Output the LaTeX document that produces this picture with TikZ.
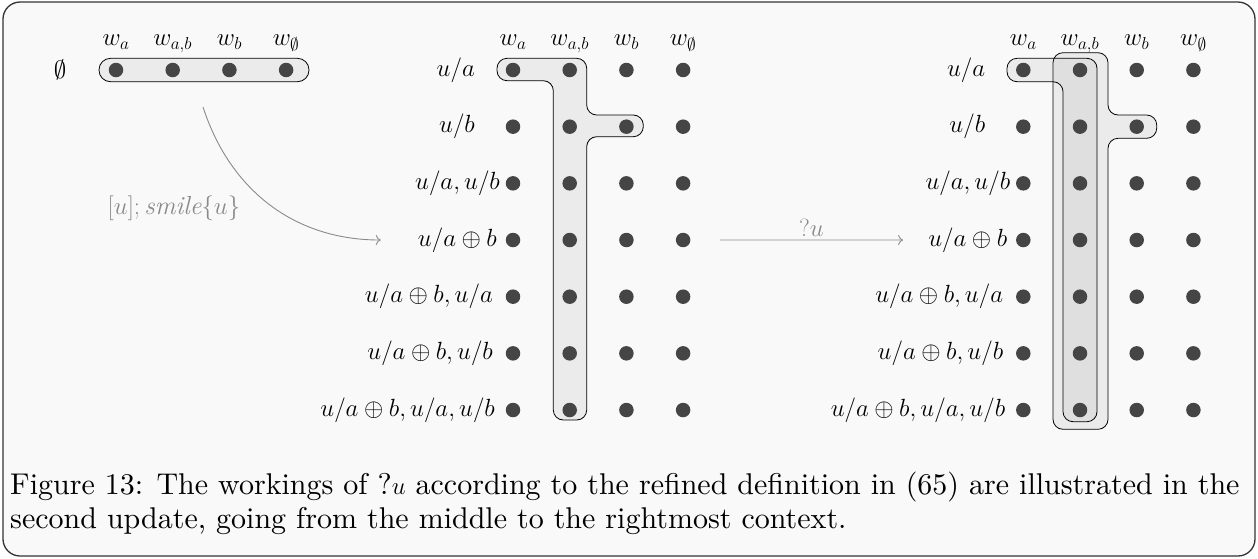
\documentclass[tikz,border=0pt]{standalone}
\usepackage{amssymb}
\usepackage{fontspec}
\newfontfamily\capfont{lmroman10-regular.otf}
\usetikzlibrary{arrows.meta,positioning,calc}
\definecolor{panelbg}{HTML}{F9F9F9}
\definecolor{dotgray}{HTML}{454545}
\definecolor{arrgray}{HTML}{8A8A8A}
\begin{document}
\begin{tikzpicture}[x=1pt,y=1pt, every node/.style={font=\fontsize{26}{32}\selectfont}, dot/.style={circle,fill=dotgray,minimum size=14.5pt,inner sep=0pt}, head/.style={anchor=base,inner sep=0pt}, row/.style={anchor=east,inner sep=0pt}, blob/.style={draw=black,line width=0.8pt,fill=gray,fill opacity=0.11,rounded corners=10pt}, arr/.style={-{To[length=5pt,width=10pt]},draw=arrgray,line width=0.9pt}, lbl/.style={text=arrgray}, capline/.style={anchor=base west,inner sep=0pt,font=\capfont\fontsize{30}{34}\selectfont}]
\useasboundingbox (0,0) rectangle (1258,-558);
\draw[draw=black!80,line width=1.3pt,fill=panelbg,rounded corners=17pt] (3,-2) rectangle (1255,-556);
% groupings
\draw[blob,rounded corners=11.5pt] (99,-58.3) rectangle (309,-81.7);
\draw[blob] (540,-58.3) -- (586.7,-58.3) -- (586.7,-115) -- (643.3,-115) -- (643.3,-136.7) -- (586.7,-136.7) -- (586.7,-420) -- (553.3,-420) -- (553.3,-80.7) -- (497,-80.7) -- (497,-58.3) -- cycle;
\draw[blob] (1080,-52.7) -- (1108,-52.7) -- (1108,-115) -- (1156.7,-115) -- (1156.7,-138.3) -- (1108,-138.3) -- (1108,-429.3) -- (1053,-429.3) -- (1053,-52.7) -- cycle;
\draw[blob] (1050,-58.3) -- (1097,-58.3) -- (1097,-421.7) -- (1063,-421.7) -- (1063,-81.7) -- (1007,-81.7) -- (1007,-58.3) -- cycle;
% worlds
\foreach \c/\w in {1/a,2/{a,b},3/b,4/\emptyset} {
  \node[dot] (e-\c) at ({116+56.7*(\c-1)},-70) {};
  \node[head] (eh-\c) at ($(e-\c)+(0,24.3)$) {$w_{\w}$};
  \foreach \r in {1,...,7} {
    \node[dot] (m-\r-\c) at ({513+56.7*(\c-1)},{-70-56.67*(\r-1)}) {};
    \node[dot] (r-\r-\c) at ({1023.3+56.7*(\c-1)},{-70-56.67*(\r-1)}) {};
  }
  \node[head] (mh-\c) at ($(m-1-\c)+(0,24.3)$) {$w_{\w}$};
  \node[head] (rh-\c) at ($(r-1-\c)+(0,24.3)$) {$w_{\w}$};
}
\node[anchor=center,inner sep=0pt] (e-lab) at (60,-70) {$\emptyset$};
% information states
\foreach \r/\d/\s in {1/38/{u/a},2/38/{u/b},3/13/{u/a,u/b},4/16/{u/a\oplus b},5/20/{u/a\oplus b,u/a},6/20/{u/a\oplus b,u/b},7/18/{u/a\oplus b,u/a,u/b}} {
  \node[row] (ml-\r) at ($(m-\r-1)+(-\d,0)$) {$\s$};
  \node[row] (rl-\r) at ($(r-\r-1)+(-\d,0)$) {$\s$};
}
% updates
\coordinate (src) at (203,-107);
\coordinate (dst) at ($(ml-4.west)+(-37,0)$);
\draw[arr] (src) to[out=-72,in=180] (dst);
\node[lbl] (upd1) at (174,-208) {$[u];\mathit{smile}\{u\}$};
\coordinate (q1) at (720,-240);
\coordinate (q2) at ($(rl-4.west)+(-25,0)$);
\draw[arr] (q1) -- node[lbl,above,inner sep=3pt] (upd2) {$?u$} (q2);
% caption
\node[capline] (cap1) at (10,-494) {Figure 13: The workings of ?$u$ according to the refined definition in (65) are illustrated in the};
\node[capline] (cap2) at ($(cap1.base west)+(0,-34)$) {second update, going from the middle to the rightmost context.};
\end{tikzpicture}
\end{document}
